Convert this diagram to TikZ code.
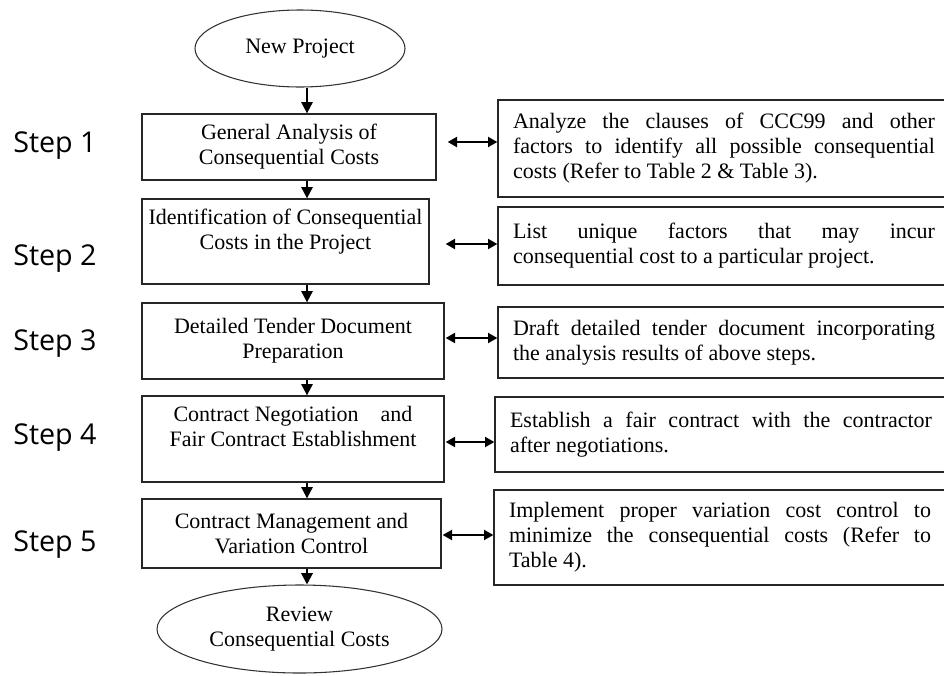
\documentclass[tikz,border=0pt]{standalone}
\usepackage{fontspec}
\setmainfont{Liberation Serif}
\newfontfamily\stepfont{Open Sans}
\usetikzlibrary{arrows.meta,shapes.geometric}
\tikzset{
  lbox/.style={draw=black!85, line width=1pt, rectangle, inner sep=0pt, align=center,
    font=\fontsize{16.5}{18.75}\selectfont},
  rbox/.style={draw=black!85, line width=1pt, rectangle, inner sep=0pt, align=justify,
    text width=316.5pt, minimum width=339pt,
    font=\fontsize{16.5}{18.75}\selectfont},
  oval/.style={draw=black!80, line width=0.8pt, ellipse, inner sep=0pt, align=center,
    font=\fontsize{16.5}{18.75}\selectfont},
  steplabel/.style={anchor=base west, inner sep=0pt, font=\stepfont\fontsize{21.5}{24}\selectfont},
  flow/.style={line width=1.5pt, -{Triangle[length=8.5pt,width=8.5pt]}},
  dbl/.style={line width=1.5pt, {Triangle[length=7pt,width=7.5pt]}-{Triangle[length=7pt,width=7.5pt]}}
}
\begin{document}
\begin{tikzpicture}[x=0.75pt,y=-0.75pt]
\useasboundingbox (0,0) rectangle (944,675);
\coordinate (ax) at (307,0);

% flow column
\node[oval, minimum width=157.5pt, minimum height=57.75pt] (np) at (300,48.5) {New Project};
\node[lbox, minimum width=220.5pt, minimum height=49.5pt] (b1) at (289,147)
  {General Analysis of\\Consequential Costs};
\node[lbox, minimum width=215.25pt, minimum height=63.75pt] (b2) at (285.5,241.5)
  {Identification of Consequential\\Costs in the Project\\\mbox{}};
\node[lbox, minimum width=226.5pt, minimum height=57pt] (b3) at (293,341)
  {Detailed Tender Document\\Preparation};
\node[lbox, minimum width=226.5pt, minimum height=64.5pt] (b4) at (293,439)
  {Contract Negotiation\hspace{1em}and\\Fair Contract Establishment\\\mbox{}};
\node[lbox, minimum width=224.25pt, minimum height=51.75pt] (b5) at (291.5,533.5)
  {Contract Management and\\Variation Control};
\node[oval, minimum width=213.75pt, minimum height=66pt] (rv) at (299.5,629)
  {Review\\Consequential Costs};

% right column
\node[rbox, minimum height=72.75pt] (r1) at (724,148.5)
  {Analyze the clauses of CCC99 and other\linebreak factors to identify all possible consequential\linebreak costs (Refer to Table 2 \& Table 3).};
\node[rbox, minimum height=58.5pt] (r2) at (724,246)
  {List unique factors that may incur\linebreak consequential cost to a particular project.};
\node[rbox, minimum height=53.25pt] (r3) at (724,342.5)
  {Draft detailed tender document incorporating\linebreak the analysis results of above steps.};
\node[rbox, minimum height=56.25pt] (r4) at (721,434.5)
  {Establish a fair contract with the contractor\linebreak after negotiations.};
\node[rbox, minimum height=71.25pt] (r5) at (720,537.5)
  {Implement proper variation cost control to\linebreak minimize the consequential costs (Refer to\linebreak Table 4).};

% step labels
\node[steplabel] (s1) at (13,152) {Step 1};
\node[steplabel] (s2) at (13,265) {Step 2};
\node[steplabel] (s3) at (13,350) {Step 3};
\node[steplabel] (s4) at (13,444) {Step 4};
\node[steplabel] (s5) at (13,551) {Step 5};

% vertical flow arrows
\draw[flow] (np.south -| ax) -- (b1.north -| ax);
\draw[flow] (b1.south -| ax) -- (b2.north -| ax);
\draw[flow] (b2.south -| ax) -- (b3.north -| ax);
\draw[flow] (b3.south -| ax) -- (b4.north -| ax);
\draw[flow] (b4.south -| ax) -- (b5.north -| ax);
\draw[flow] (b5.south -| ax) -- (rv.north -| ax);

% horizontal double arrows
\draw[dbl, shorten <=8.25pt] (b1.east |- 0,142) -- (r1.west |- 0,142);
\draw[dbl, shorten <=12pt] (b2.east |- 0,244) -- (r2.west |- 0,244);
\draw[dbl, shorten <=0.75pt] (b3.east |- 0,338) -- (r3.west |- 0,338);
\draw[dbl, shorten <=0.75pt] (b4.east |- 0,442) -- (r4.west |- 0,442);
\draw[dbl, shorten <=0.75pt] (b5.east |- 0,535) -- (r5.west |- 0,535);
\end{tikzpicture}
\end{document}
